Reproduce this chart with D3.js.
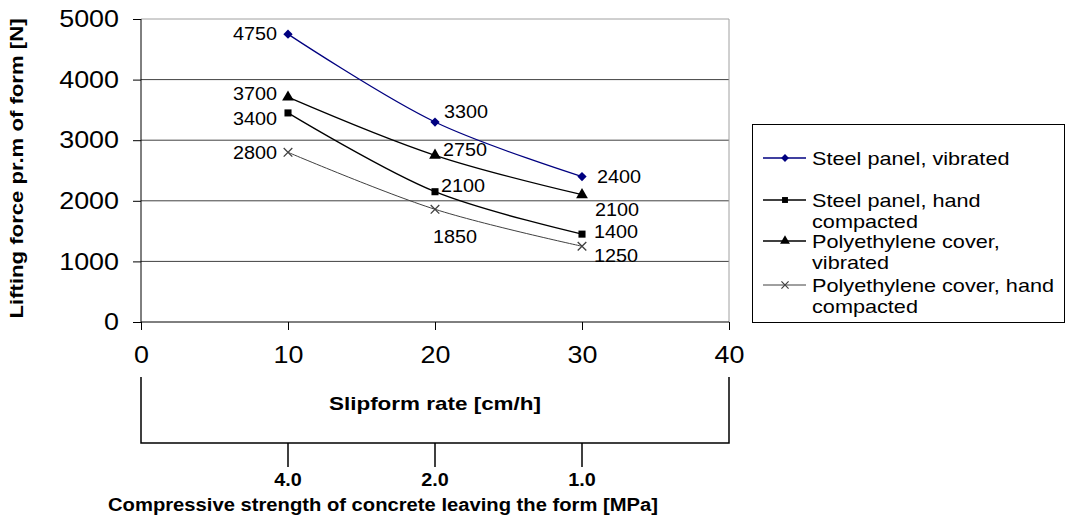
<!DOCTYPE html>
<html>
<head>
<meta charset="utf-8">
<script src="https://cdn.jsdelivr.net/npm/d3@7"></script>
<style>
  body { margin: 0; background: #fff; }
  svg { font-family: "Liberation Sans", Arial, sans-serif; }
</style>
</head>
<body>
<svg id="chart" width="1066" height="521"></svg>
<script>
// slipform rate [cm/h]
const rates = [10, 20, 30];
const xTicks = [0, 10, 20, 30, 40];
const yTicks = [0, 1000, 2000, 3000, 4000, 5000];
const strengthLabels = ["4.0", "2.0", "1.0"];

const steelVibrated = [4750, 3300, 2400];
const steelHand = [3450, 2150, 1450];
const polyVibrated = [3710, 2750, 2100];
const polyHand = [2800, 1860, 1250];

const steelVibratedLabels = ["4750", "3300", "2400"];
const steelHandLabels = ["3400", "2100", "1400"];
const polyVibratedLabels = ["3700", "2750", "2100"];
const polyHandLabels = ["2800", "1850", "1250"];

const series = [
  { name: ["Steel panel, vibrated"], values: steelVibrated, labels: steelVibratedLabels,
    color: "#000080", width: 1.3, symbol: d3.symbolDiamond2, size: 55,
    lab: [[-11, 0, "end"], [9, -10, "start"], [15, 0, "start"]] },
  { name: ["Steel panel, hand", "compacted"], values: steelHand, labels: steelHandLabels,
    color: "#000", width: 1.3, symbol: d3.symbolSquare, size: 50,
    lab: [[-11, 6, "end"], [6, -6, "start"], [12, -2, "start"]] },
  { name: ["Polyethylene cover,", "vibrated"], values: polyVibrated, labels: polyVibratedLabels,
    color: "#000", width: 1.3, symbol: d3.symbolTriangle, size: 60,
    lab: [[-11, -3, "end"], [8, -6, "start"], [13, 15, "start"]] },
  { name: ["Polyethylene cover, hand", "compacted"], values: polyHand, labels: polyHandLabels,
    color: "#404040", width: 1, symbol: d3.symbolX, size: 50,
    lab: [[-11, 0, "end"], [-2, 27, "start"], [12, 9, "start"]] }
];

// widen glyphs a little, the source picture is drawn with broad letters
const stretch = (sel, k) => sel.each(function () {
  const w = this.getComputedTextLength();
  d3.select(this).attr("textLength", w * k).attr("lengthAdjust", "spacingAndGlyphs");
});

const svg = d3.select("#chart");
const x = d3.scaleLinear().domain([0, 40]).range([141, 729]);
const y = d3.scaleLinear().domain([0, 5000]).range([322, 19]);

// gridlines
svg.append("g")
  .selectAll("line")
  .data(yTicks.filter(d => d > 0))
  .join("line")
  .attr("x1", x(0)).attr("x2", x(40))
  .attr("y1", d => y(d)).attr("y2", d => y(d))
  .attr("stroke", d => d === 5000 ? "#a0a0a0" : "#404040")
  .attr("stroke-width", 1);

svg.append("line")
  .attr("x1", x(40)).attr("x2", x(40))
  .attr("y1", y(5000)).attr("y2", y(0))
  .attr("stroke", "#a0a0a0");

// y axis
const yAxis = svg.append("g")
  .attr("transform", `translate(${x(0)},0)`)
  .call(d3.axisLeft(y).tickValues(yTicks).tickSize(8).tickPadding(14).tickFormat(d3.format("d")));
yAxis.selectAll("text").attr("font-size", 24).attr("fill", "#000").attr("font-family", "Liberation Sans, Arial")
  .call(stretch, 1.12);
yAxis.selectAll("line, path").attr("stroke", "#000");
yAxis.select("path").attr("d", `M0,${y(5000)}V${y(0)}`);

// x axis
const xAxis = svg.append("g")
  .attr("transform", `translate(0,${y(0)})`)
  .call(d3.axisBottom(x).tickValues(xTicks).tickSize(8).tickPadding(16));
xAxis.selectAll("text").attr("font-size", 24).attr("fill", "#000").attr("font-family", "Liberation Sans, Arial")
  .call(stretch, 1.12);
xAxis.selectAll("line, path").attr("stroke", "#000");
xAxis.select("path").attr("d", `M${x(0)},0H${x(40)}`);

// axis titles
svg.append("text")
  .attr("transform", `translate(23,${(y(0) + y(5000)) / 2 - 2}) rotate(-90)`)
  .attr("text-anchor", "middle")
  .attr("font-size", 18).attr("font-weight", "bold")
  .attr("textLength", 300).attr("lengthAdjust", "spacingAndGlyphs")
  .text("Lifting force pr.m of form [N]");

svg.append("text")
  .attr("x", x(20)).attr("y", 410)
  .attr("text-anchor", "middle")
  .attr("font-size", 19).attr("font-weight", "bold")
  .attr("textLength", 212).attr("lengthAdjust", "spacingAndGlyphs")
  .text("Slipform rate [cm/h]");

// secondary scale bracket
const br = svg.append("g").attr("stroke", "#000").attr("stroke-width", 1.5).attr("fill", "none");
br.append("path").attr("d", `M${x(0)},377V443H${x(40)}V377`);
br.selectAll("line")
  .data(rates)
  .join("line")
  .attr("x1", d => x(d)).attr("x2", d => x(d))
  .attr("y1", 443).attr("y2", 467);

svg.append("g")
  .selectAll("text")
  .data(rates)
  .join("text")
  .attr("x", d => x(d)).attr("y", 486)
  .attr("text-anchor", "middle")
  .attr("font-size", 18).attr("font-weight", "bold")
  .text((d, i) => strengthLabels[i])
  .call(stretch, 1.1);

svg.append("text")
  .attr("x", 383).attr("y", 511)
  .attr("text-anchor", "middle")
  .attr("font-size", 18).attr("font-weight", "bold")
  .attr("textLength", 550).attr("lengthAdjust", "spacingAndGlyphs")
  .text("Compressive strength of concrete leaving the form [MPa]");

// lines
const line = d3.line()
  .x((d, i) => x(rates[i]))
  .y(d => y(d))
  .curve(d3.curveCatmullRom.alpha(0.5));

series.forEach(s => {
  const g = svg.append("g");
  g.append("path")
    .attr("d", line(s.values))
    .attr("fill", "none")
    .attr("stroke", s.color)
    .attr("stroke-width", s.width);

  g.selectAll("path.m")
    .data(s.values)
    .join("path")
    .attr("class", "m")
    .attr("transform", (d, i) => `translate(${x(rates[i])},${y(d)})`)
    .attr("d", d3.symbol(s.symbol, s.size))
    .attr("fill", s.symbol === d3.symbolX ? "none" : s.color)
    .attr("stroke", s.symbol === d3.symbolX ? s.color : "none")
    .attr("stroke-width", 1.3);

  g.selectAll("text")
    .data(s.values)
    .join("text")
    .attr("x", (d, i) => x(rates[i]) + s.lab[i][0])
    .attr("y", (d, i) => y(d) + s.lab[i][1])
    .attr("dy", "0.35em")
    .attr("text-anchor", (d, i) => s.lab[i][2])
    .attr("font-size", 18)
    .text((d, i) => s.labels[i])
    .call(stretch, 1.1);
});

// legend
const legend = svg.append("g");
legend.append("rect")
  .attr("x", 752.5).attr("y", 124.5)
  .attr("width", 312).attr("height", 198)
  .attr("fill", "#fff").attr("stroke", "#000");

const legendY = [158, 200, 241, 285];
series.forEach((s, i) => {
  const g = legend.append("g").attr("transform", `translate(0,${legendY[i]})`);
  g.append("line")
    .attr("x1", 763).attr("x2", 806)
    .attr("stroke", s.color).attr("stroke-width", s.width);
  g.append("path")
    .attr("transform", "translate(785,0)")
    .attr("d", d3.symbol(s.symbol, s.size * 0.7))
    .attr("fill", s.symbol === d3.symbolX ? "none" : s.color)
    .attr("stroke", s.symbol === d3.symbolX ? s.color : "none")
    .attr("stroke-width", 1.2);
  g.selectAll("text")
    .data(s.name)
    .join("text")
    .attr("x", 812)
    .attr("y", (d, j) => j * 21)
    .attr("dy", "0.35em")
    .attr("font-size", 19)
    .text(d => d)
    .call(stretch, 1.14);
});
</script>
</body>
</html>
